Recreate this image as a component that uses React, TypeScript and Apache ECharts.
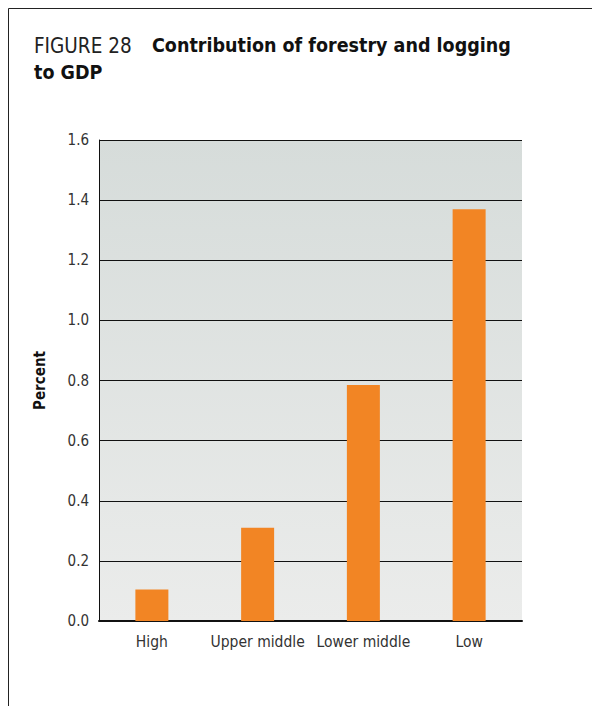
import React, { useEffect, useRef } from "react";
import * as echarts from "echarts";

const categories = ["High", "Upper middle", "Lower middle", "Low"];
const values = [0.105, 0.31, 0.785, 1.37];
const yTicks = { min: 0, max: 1.6, interval: 0.2 };
const titleLight = "FIGURE 28";
const titleBold1 = "Contribution of forestry and logging";
const titleBold2 = "to GDP";
const yName = "Percent";

const FONT = "'Liberation Sans Narrow', 'DejaVu Sans Condensed', 'Open Sans', sans-serif";

export default function App() {
  const ref = useRef<HTMLDivElement>(null);
  useEffect(() => {
    if (!ref.current) return;
    const chart = echarts.init(ref.current, null, { renderer: "svg" });
    chart.setOption({
      animation: false,
      backgroundColor: "#ffffff",
      grid: {
        left: 99,
        right: 70,
        top: 140,
        bottom: 85,
        show: true,
        borderWidth: 0,
        backgroundColor: new echarts.graphic.LinearGradient(0, 0, 0, 1, [
          { offset: 0, color: "#d6dcda" },
          { offset: 1, color: "#ebeceb" },
        ]),
      },
      xAxis: {
        type: "category",
        data: categories,
        axisTick: { show: false },
        axisLine: { lineStyle: { color: "#111", width: 2 } },
        axisLabel: {
          color: "#333",
          fontSize: 15.5,
          fontFamily: FONT,
          margin: 13,
          interval: 0,
          hideOverlap: false,
        },
      },
      yAxis: {
        type: "value",
        min: yTicks.min,
        max: yTicks.max,
        interval: yTicks.interval,
        name: yName,
        nameLocation: "middle",
        nameGap: 52,
        nameTextStyle: { color: "#111", fontSize: 15, fontWeight: "bold", fontFamily: FONT },
        axisLine: { show: true, lineStyle: { color: "#111", width: 1 } },
        axisTick: { show: false },
        splitLine: { show: true, lineStyle: { color: "#111", width: 1 } },
        axisLabel: {
          color: "#333",
          fontSize: 15,
          fontFamily: FONT,
          margin: 10,
          formatter: (v: number) => v.toFixed(1),
        },
      },
      series: [
        {
          type: "bar",
          data: values,
          barWidth: 33,
          itemStyle: { color: "#f28524" },
        },
      ],
      graphic: [
        {
          type: "polyline",
          shape: { points: [[8.5, 706], [8.5, 8.5], [592, 8.5]] },
          style: { stroke: "#222", lineWidth: 1, fill: null },
        },
        {
          type: "text",
          left: 34,
          top: 35,
          style: {
            text: titleLight,
            fill: "#222",
            font: `20.5px ${FONT}`,
          },
        },
        {
          type: "text",
          left: 152,
          top: 35,
          style: {
            text: titleBold1,
            fill: "#111",
            font: `bold 19.5px ${FONT}`,
          },
        },
        {
          type: "text",
          left: 34,
          top: 62,
          style: {
            text: titleBold2,
            fill: "#111",
            font: `bold 19.5px ${FONT}`,
          },
        },
      ],
    });
    return () => chart.dispose();
  }, []);
  return <div ref={ref} style={{ width: 592, height: 706, position: "absolute", left: 0, top: 0 }} />;
}
